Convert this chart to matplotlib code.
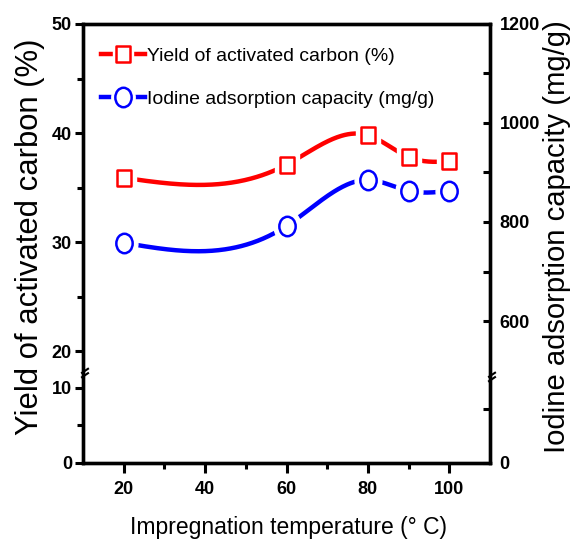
import numpy as np
import matplotlib
matplotlib.use('Agg')
import matplotlib.pyplot as plt
from matplotlib.lines import Line2D
from matplotlib.legend_handler import HandlerTuple
from matplotlib.path import Path
from matplotlib.transforms import Affine2D

# data
temps = [20, 60, 80, 90, 100]
yield_pct = [35.9, 37.1, 39.8, 37.8, 37.4]
iodine = [758, 792, 885, 863, 863]

left_ticks = [0, 10, 20, 30, 40, 50]
left_minor = [5, 25, 35, 45]
right_ticks = [0, 600, 800, 1000, 1200]
right_minor = [200, 700, 900, 1100]

FONT = ['Liberation Sans Narrow', 'Liberation Sans', 'DejaVu Sans']

# broken axes: height fraction of the lower part
LB, RB = 0.205, 0.196


def fwd_left(v):
    v = np.asarray(v, float)
    return np.where(v <= 12, v / 12 * LB, LB + (np.maximum(v, 18) - 18) / 32 * (1 - LB))


def inv_left(y):
    y = np.asarray(y, float)
    return np.where(y <= LB, y / LB * 12, 18 + (y - LB) / (1 - LB) * 32)


def fwd_right(v):
    v = np.asarray(v, float)
    return np.where(v <= 320, v / 320 * RB, RB + (np.maximum(v, 487) - 487) / 713 * (1 - RB))


def inv_right(y):
    y = np.asarray(y, float)
    return np.where(y <= RB, y / RB * 320, 487 + (y - RB) / (1 - RB) * 713)


def natural_spline(x, y, n=300):
    x = np.asarray(x, float)
    y = np.asarray(y, float)
    k = len(x)
    h = np.diff(x)
    A = np.zeros((k, k))
    b = np.zeros(k)
    A[0, 0] = A[-1, -1] = 1
    for i in range(1, k - 1):
        A[i, i - 1] = h[i - 1]
        A[i, i] = 2 * (h[i - 1] + h[i])
        A[i, i + 1] = h[i]
        b[i] = 6 * ((y[i + 1] - y[i]) / h[i] - (y[i] - y[i - 1]) / h[i - 1])
    M = np.linalg.solve(A, b)
    xs = np.linspace(x[0], x[-1], n)
    idx = np.clip(np.searchsorted(x, xs) - 1, 0, k - 2)
    x0, x1 = x[idx], x[idx + 1]
    hh = x1 - x0
    t0, t1 = x1 - xs, xs - x0
    ys = (M[idx] * t0 ** 3 + M[idx + 1] * t1 ** 3) / (6 * hh) \
        + (y[idx] / hh - M[idx] * hh / 6) * t0 + (y[idx + 1] / hh - M[idx + 1] * hh / 6) * t1
    return xs, ys


# slightly tall markers like the original
oval = Path.unit_circle().transformed(Affine2D().scale(0.84, 1.0))
rect = Path([(-0.41, -0.5), (0.41, -0.5), (0.41, 0.5), (-0.41, 0.5), (-0.41, -0.5)],
            [Path.MOVETO, Path.LINETO, Path.LINETO, Path.LINETO, Path.CLOSEPOLY])

fig = plt.figure(figsize=(5.76, 5.5), dpi=100)
ax = fig.add_axes([0.1441, 0.1582, 0.7066, 0.7982])
ax2 = ax.twinx()

ax.set_yscale('function', functions=(fwd_left, inv_left))
ax2.set_yscale('function', functions=(fwd_right, inv_right))
ax.set_xlim(10, 110)
ax.set_ylim(0, 50)
ax2.set_ylim(0, 1200)


def draw_series(a, x, y, color, marker, ms):
    xs, ys = natural_spline(x, y)
    a.plot(xs, ys, color=color, lw=3.2, zorder=2, solid_capstyle='butt')
    a.plot(x, y, ls='', marker=marker, ms=ms + 9, mfc='white', mec='white', zorder=3)
    a.plot(x, y, ls='', marker=marker, ms=ms, mfc='white', mec=color, mew=1.8, zorder=4)


draw_series(ax, temps, yield_pct, 'red', rect, 12)
draw_series(ax2, temps, iodine, 'blue', oval, 14)

# ticks
ax.set_xticks([20, 40, 60, 80, 100])
ax.set_xticks([30, 50, 70, 90], minor=True)
ax.set_yticks(left_ticks)
ax.set_yticks(left_minor, minor=True)
ax2.set_yticks(right_ticks)
ax2.set_yticks(right_minor, minor=True)

ax.tick_params(axis='y', which='major', direction='out', length=6, width=2.2, pad=2)
ax.tick_params(axis='y', which='minor', direction='out', length=4, width=2.2)
ax.tick_params(axis='x', which='major', direction='out', length=7, width=2.2, pad=6)
ax.tick_params(axis='x', which='minor', direction='out', length=4, width=2.2)
ax2.tick_params(axis='y', which='major', direction='in', length=5, width=2.2, pad=7)
ax2.tick_params(axis='y', which='minor', direction='in', length=5, width=2.2)

for lab in ax.get_xticklabels() + ax.get_yticklabels() + ax2.get_yticklabels():
    lab.set_fontfamily(FONT)
    lab.set_fontweight('bold')
    lab.set_fontsize(13)

for a in (ax, ax2):
    for s in a.spines.values():
        s.set_linewidth(2.4)

xl = ax.set_xlabel('Impregnation temperature (° C)', family=FONT, fontsize=19,
                   ha='center', va='center')
ax.xaxis.set_label_coords(0.504, -0.146)
yl = ax.set_ylabel('Yield of activated carbon (%)', family=FONT, fontsize=22,
                   ha='center', va='center', rotation_mode='default')
ax.yaxis.set_label_coords(-0.130, 0.515)
yr = ax2.set_ylabel('Iodine adsorption capacity (mg/g)', family=FONT, fontsize=22,
                    ha='center', va='center', rotation_mode='default', rotation=90)
ax2.yaxis.set_label_coords(1.165, 0.515)

# break marks on the vertical axes
px = 1 / 407.0
py = 1 / 439.0
for xb, yb in ((0.0, LB), (1.0, RB)):
    for dy in (-2.2, 2.2):
        ax2.plot([xb - 1 * px, xb + 5 * px], [yb + (dy - 2) * py, yb + (dy + 2) * py],
                 transform=ax2.transAxes, color='black', lw=1.5, clip_on=False, zorder=6)

# legend
h1 = (Line2D([], [], color='red', lw=3.2),
      Line2D([], [], ls='', marker=rect, ms=18, mfc='white', mec='white'),
      Line2D([], [], ls='', marker=rect, ms=12, mfc='white', mec='red', mew=1.8))
h2 = (Line2D([], [], color='blue', lw=3.2),
      Line2D([], [], ls='', marker=oval, ms=20, mfc='white', mec='white'),
      Line2D([], [], ls='', marker=oval, ms=14, mfc='white', mec='blue', mew=1.8))
leg = ax2.legend([h1, h2], ['Yield of activated carbon (%)', 'Iodine adsorption capacity (mg/g)'],
                 handler_map={tuple: HandlerTuple(ndivide=1)}, loc='upper left',
                 bbox_to_anchor=(0.015, 0.974), frameon=False,
                 prop={'family': FONT, 'size': 14},
                 handlelength=2.3, handletextpad=0.1, labelspacing=1.3, borderaxespad=0.2)

# shrink/grow label fonts so they span the same width as in the original
fig.canvas.draw()
r = fig.canvas.get_renderer()
for t, target, vertical in ((xl, 317, False), (yl, 395, True), (yr, 431, True),
                            (leg.get_texts()[0], 248, False)):
    bb = t.get_window_extent(r)
    cur = bb.height if vertical else bb.width
    t.set_fontsize(t.get_fontsize() * target / cur)
leg.get_texts()[1].set_fontsize(leg.get_texts()[0].get_fontsize())

fig.savefig('out.png', dpi=100)
